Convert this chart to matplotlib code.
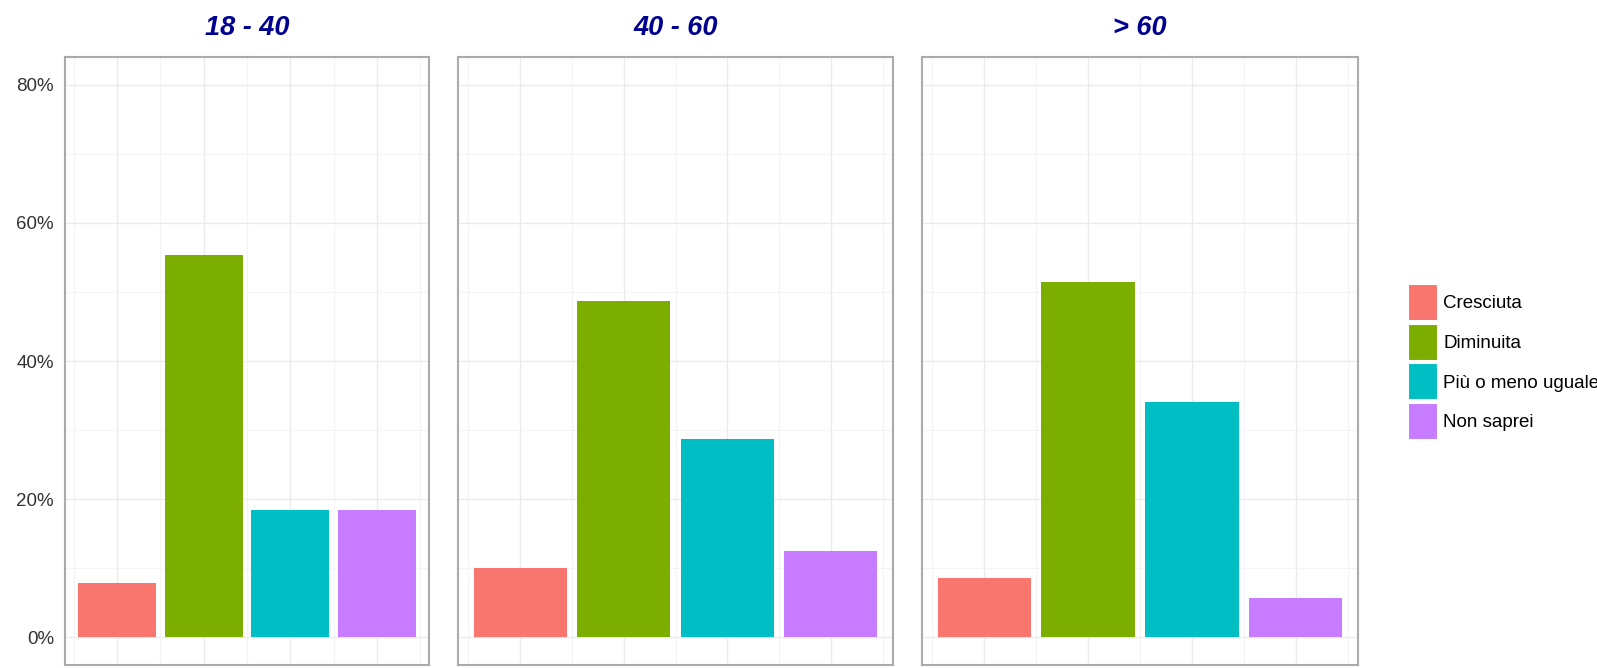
import matplotlib.pyplot as plt
from matplotlib.patches import Patch
from matplotlib.ticker import FixedLocator, FuncFormatter

plt.rcParams['font.family'] = ['Liberation Sans', 'DejaVu Sans']

# data (percent)
age_groups = ["18 - 40", "40 - 60", "> 60"]
answers = ["Cresciuta", "Diminuita", "Più o meno uguale", "Non saprei"]
colors = ["#F8766D", "#7CAE00", "#00BFC4", "#C77CFF"]
shares = {
    "18 - 40": [7.8, 55.4, 18.4, 18.4],
    "40 - 60": [10.1, 48.7, 28.7, 12.5],
    "> 60": [8.6, 51.4, 34.1, 5.7],
}

W, H = 1597, 668
fig = plt.figure(figsize=(W / 100, H / 100), dpi=100)

# panel boxes in pixels: left, right
panels_px = [(65, 429), (458, 893), (922, 1358)]
top_px, bottom_px = 57, 665

for i, (grp, (x0, x1)) in enumerate(zip(age_groups, panels_px)):
    ax = fig.add_axes([x0 / W, 1 - bottom_px / H, (x1 - x0) / W, (bottom_px - top_px) / H])
    pos = list(range(1, len(answers) + 1))
    ax.bar(pos, shares[grp], width=0.9, color=colors, zorder=3)
    ax.set_xlim(0.4, 4.6)
    ax.set_ylim(-4, 84)

    ax.yaxis.set_major_locator(FixedLocator([0, 20, 40, 60, 80]))
    ax.yaxis.set_minor_locator(FixedLocator([10, 30, 50, 70]))
    ax.xaxis.set_major_locator(FixedLocator(pos))
    ax.xaxis.set_minor_locator(FixedLocator([0.5, 1.5, 2.5, 3.5, 4.5]))
    ax.grid(which='major', color='#EBEBEB', linewidth=1.0, zorder=0)
    ax.grid(which='minor', color='#F4F4F4', linewidth=0.8, zorder=0)
    ax.tick_params(which='both', length=0, labelbottom=False)
    if i == 0:
        ax.yaxis.set_major_formatter(FuncFormatter(lambda v, p: f"{v:.0f}%"))
        ax.tick_params(axis='y', labelsize=13.5, labelcolor='#333333', pad=8)
    else:
        ax.tick_params(axis='y', labelleft=False)

    for s in ax.spines.values():
        s.set_color('#AAAAAA')
        s.set_linewidth(1.5)

    ax.set_title(grp, fontsize=19.5, fontweight='bold', fontstyle='italic',
                 color='#000090', pad=16)

handles = [Patch(facecolor=c, edgecolor='white', linewidth=1.5) for c in colors]
fig.legend(handles, answers, loc='center left', bbox_to_anchor=(1400 / W, 1 - 362 / H),
           frameon=False, fontsize=13.5, handlelength=1.6, handleheight=2.65,
           handletextpad=0.3, labelspacing=0.15, borderaxespad=0)

fig.savefig("out.png", dpi=100)
